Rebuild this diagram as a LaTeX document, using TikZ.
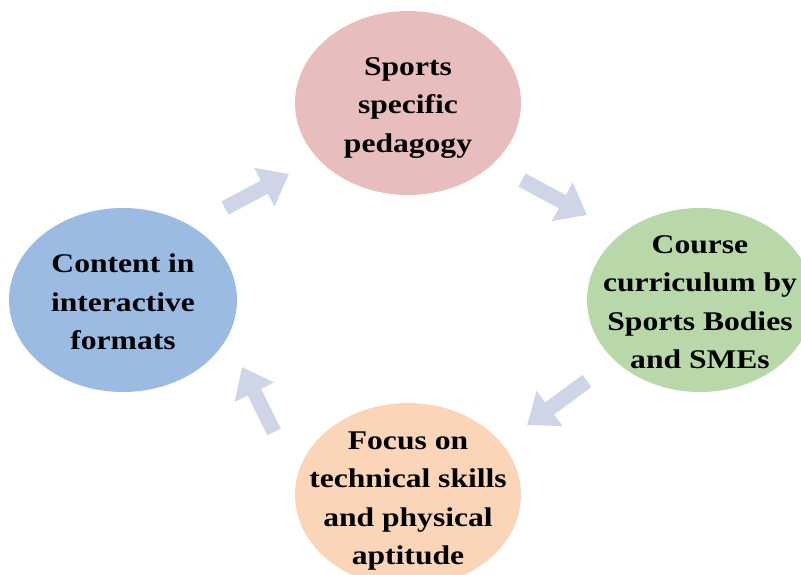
\documentclass[tikz,border=0pt]{standalone}
\usepackage{fontspec}
\setmainfont{Liberation Serif}[FakeStretch=1.17]
\usepackage{tikz}
\usetikzlibrary{arrows.meta}
\definecolor{cyc_pink}{HTML}{E8BDBE}
\definecolor{cyc_green}{HTML}{B8D8AA}
\definecolor{cyc_blue}{HTML}{9BBBE3}
\definecolor{cyc_orange}{HTML}{FBD5B7}
\definecolor{cyc_grey}{HTML}{CFD5E7}

\tikzset{
    cyc_label/.style={align=center, text=black, font=\bfseries\fontsize{27}{38.5}\selectfont},
    flow/.style={draw=cyc_grey, line width=15pt, -{Triangle[length=28pt,width=42pt]}}
}

\begin{document}
\begin{tikzpicture}[x=1pt, y=-1pt]
            \useasboundingbox (0,0) rectangle (801,574);
            \clip (0,0) rectangle (801,574);

            % the four stages
            \coordinate (c1) at (408, 103);
            \coordinate (c2) at (700, 300);
            \coordinate (c3) at (408, 495);
            \coordinate (c4) at (123, 300);

            \fill [cyc_pink] (c1) ellipse [x radius=113pt, y radius=92pt];
            \fill [cyc_green] (c2) ellipse [x radius=113pt, y radius=92pt];
            \fill [cyc_orange] (c3) ellipse [x radius=113pt, y radius=92pt];
            \fill [cyc_blue] (c4) ellipse [x radius=114pt, y radius=92pt];

            \node[cyc_label] (pedagogy) at (408, 108) {Sports\\specific\\pedagogy};
            \node[cyc_label] (curriculum) at (700, 302) {Course\\curriculum by\\Sports Bodies\\and SMEs};
            \node[cyc_label] (skills) at (408, 501) {Focus on\\technical skills\\and physical\\aptitude};
            \node[cyc_label] (content) at (123, 302) {Content in\\interactive\\formats};

            % arrow ends
            \coordinate (a1) at (225, 208);
            \coordinate (b1) at (289, 174);
            \coordinate (a2) at (522, 180);
            \coordinate (b2) at (587, 215);
            \coordinate (a3) at (587, 381);
            \coordinate (b3) at (527, 425);
            \coordinate (a4) at (274, 432);
            \coordinate (b4) at (242, 367);

            \draw [flow] (a1) -- (b1);
            \draw [flow] (a2) -- (b2);
            \draw [flow] (a3) -- (b3);
            \draw [flow] (a4) -- (b4);

\end{tikzpicture}
\end{document}
